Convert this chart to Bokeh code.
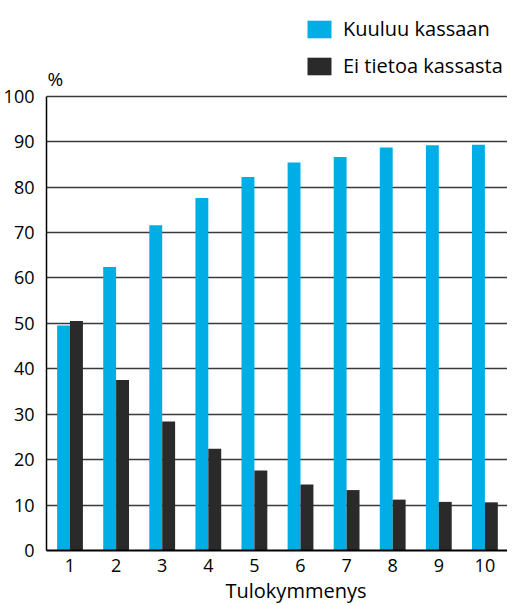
from bokeh.plotting import figure
from bokeh.models import Range1d, FixedTicker, Legend, LegendItem, Title, Label, ColumnDataSource
from bokeh.transform import dodge
from bokeh.embed import file_html
from bokeh.resources import INLINE

deciles = [1, 2, 3, 4, 5, 6, 7, 8, 9, 10]
kuuluu_kassaan = [49.5, 62.4, 71.6, 77.6, 82.2, 85.4, 86.6, 88.7, 89.2, 89.3]
ei_tietoa = [50.5, 37.5, 28.4, 22.4, 17.6, 14.5, 13.3, 11.2, 10.7, 10.6]
series_names = ["Kuuluu kassaan", "Ei tietoa kassasta"]
y_ticks = [0, 10, 20, 30, 40, 50, 60, 70, 80, 90, 100]
x_title = "Tulokymmenys"
y_unit = "%"

FONT = "Open Sans"
BLUE = "#00AEE6"
DARK = "#2A2A2A"

src = ColumnDataSource(dict(x=deciles, a=kuuluu_kassaan, b=ei_tietoa))

p = figure(width=507, height=603, output_backend="svg", toolbar_location=None, title=None,
           x_range=Range1d(0.49, 10.49), y_range=Range1d(0, 121.05),
           min_border_left=39, min_border_right=0, min_border_top=0, min_border_bottom=44)
p.outline_line_color = None
p.background_fill_color = "white"
p.border_fill_color = "white"

bw = 0.28
r1 = p.vbar(x=dodge("x", -bw / 2, range=p.x_range), top="a", width=bw, source=src,
            fill_color=BLUE, line_color=None)
r2 = p.vbar(x=dodge("x", bw / 2, range=p.x_range), top="b", width=bw, source=src,
            fill_color=DARK, line_color=None)

p.xgrid.grid_line_color = None
p.ygrid.grid_line_color = "#3a3a3a"
p.ygrid.grid_line_width = 1.5
p.ygrid.ticker = FixedTicker(ticks=y_ticks)
p.ygrid.level = "underlay"

p.xaxis.ticker = FixedTicker(ticks=deciles)
p.yaxis.ticker = FixedTicker(ticks=y_ticks)
p.yaxis.bounds = (0, 100)
for ax in (p.xaxis[0], p.yaxis[0]):
    ax.major_tick_line_color = None
    ax.minor_tick_line_color = None
    ax.axis_line_color = "black"
    ax.major_label_text_font = FONT
    ax.major_label_text_font_size = "18px"
    ax.major_label_text_color = "black"
p.xaxis.axis_line_width = 2
p.yaxis.axis_line_width = 1.5
p.xaxis.major_label_standoff = 2
p.yaxis.major_label_standoff = 6

p.add_layout(Title(text=x_title, align="left", offset=179, standoff=0,
                   text_font=FONT, text_font_size="20px", text_font_style="normal",
                   text_color="black"), "below")

p.add_layout(Label(x=0.49, y=100, x_offset=1, y_offset=17, text=y_unit, text_align="left",
                   text_baseline="alphabetic", text_font=FONT, text_font_size="19px",
                   text_color="black"))

legend = Legend(items=[LegendItem(label=series_names[0], renderers=[r1]),
                       LegendItem(label=series_names[1], renderers=[r2])],
                location=(258, 471), orientation="vertical",
                glyph_width=30, glyph_height=22, label_height=22, spacing=10,
                label_standoff=9, padding=0, margin=0,
                border_line_color=None, background_fill_alpha=0,
                label_text_font=FONT, label_text_font_size="20px",
                label_text_color="black")
p.add_layout(legend)

open("out.html", "w").write(file_html(p, INLINE))
